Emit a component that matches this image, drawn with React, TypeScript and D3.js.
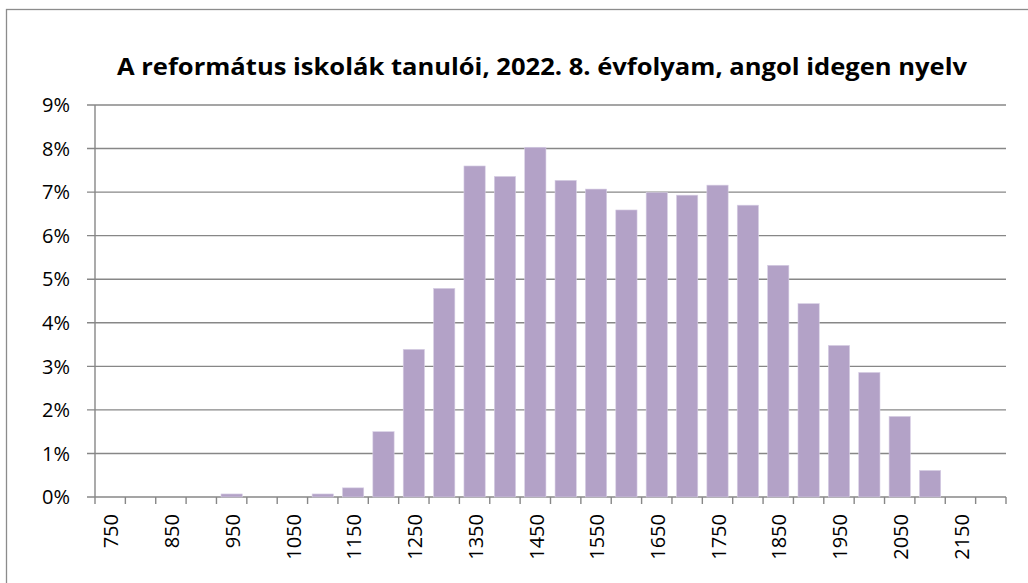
import React from "react";
import * as d3 from "d3";

const categories: number[] = [750, 800, 850, 900, 950, 1000, 1050, 1100, 1150, 1200, 1250, 1300, 1350, 1400, 1450, 1500, 1550, 1600, 1650, 1700, 1750, 1800, 1850, 1900, 1950, 2000, 2050, 2100, 2150, 2200];
const values: number[] = [0, 0, 0, 0, 0.07, 0, 0, 0.07, 0.21, 1.5, 3.39, 4.79, 7.6, 7.36, 8.03, 7.27, 7.07, 6.59, 6.99, 6.93, 7.16, 6.7, 5.32, 4.44, 3.48, 2.86, 1.85, 0.61, 0, 0];
const yTicks: number[] = [0, 1, 2, 3, 4, 5, 6, 7, 8, 9];
const xTickLabels: number[] = [750, 850, 950, 1050, 1150, 1250, 1350, 1450, 1550, 1650, 1750, 1850, 1950, 2050, 2150];
const title = "A református iskolák tanulói, 2022. 8. évfolyam, angol idegen nyelv";

export default function App() {
  const W = 1028, H = 583;
  const left = 95, right = 1006, top = 105, bottom = 497;
  const x = d3.scaleBand<number>().domain(categories).range([left, right]).paddingInner(0.3).paddingOuter(0.15);
  const xb = d3.scaleBand<number>().domain(categories).range([left, right]);
  const y = d3.scaleLinear().domain([0, 9]).range([bottom, top]);
  const grid = "#878787";
  return (
    <svg width={W} height={H} style={{ position: "absolute", left: 0, top: 0 }}>
      <rect x={0} y={0} width={W} height={H} fill="#fff" />
      <rect x={6.5} y={9.5} width={W + 10} height={H + 10} fill="none" stroke="#8c8c8c" strokeWidth={1.3} />
      <text x={542} y={75} textAnchor="middle" fontFamily="'Liberation Sans Narrow', 'Open Sans', sans-serif" fontWeight="bold" fontSize={24} textLength={850} lengthAdjust="spacingAndGlyphs" fill="#000">{title}</text>
      {yTicks.map((t) => (
        <g key={t}>
          <line x1={left - 8} x2={right} y1={y(t)} y2={y(t)} stroke={grid} strokeWidth={1.4} />
          <text x={70} y={y(t)} dy="0.36em" textAnchor="end" fontFamily="'Open Sans', sans-serif" fontSize={20} fill="#000">{t}%</text>
        </g>
      ))}
      <line x1={left} x2={left} y1={top} y2={bottom + 7} stroke={grid} strokeWidth={1.4} />
      {categories.map((c) => (
        <line key={"t" + c} x1={(xb(c) as number) + xb.bandwidth()} x2={(xb(c) as number) + xb.bandwidth()} y1={bottom} y2={bottom + 7} stroke={grid} strokeWidth={1.4} />
      ))}
      {categories.map((c, i) => (
        <rect key={c} x={x(c)} y={y(values[i])} width={x.bandwidth()} height={bottom - y(values[i])} fill="#b3a2c7" stroke="#d8cfe5" strokeWidth={0.6} />
      ))}
      {xTickLabels.map((c) => {
        const cx = (xb(c) as number) + xb.bandwidth() / 2 + 1;
        return (
          <text key={c} transform={`translate(${cx},${514}) rotate(-90)`} textAnchor="end" dy="0.36em" fontFamily="'Open Sans', sans-serif" fontSize={20} fill="#000">{c}</text>
        );
      })}
    </svg>
  );
}
